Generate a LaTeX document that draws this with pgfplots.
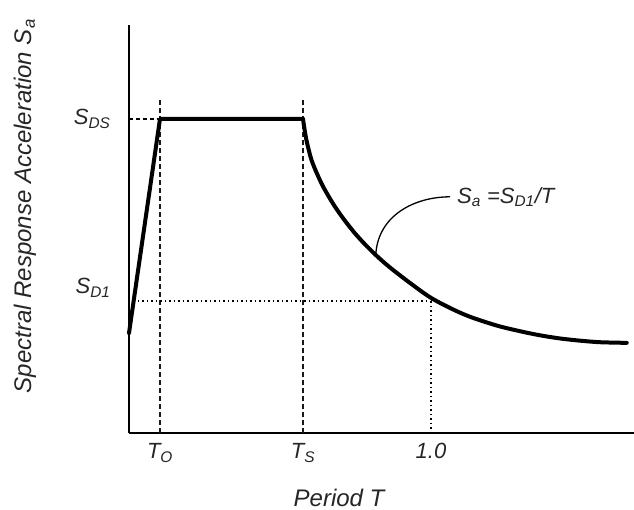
\documentclass[border=0pt]{standalone}
\usepackage{pgfplots}
\pgfplotsset{compat=1.18}
\usepackage{fontspec}
\setmainfont{Liberation Sans}
\begin{document}
\begin{tikzpicture}
\begin{axis}[
  scale only axis, width=505bp, height=408bp,
  xmin=0, xmax=1.672, ymin=0, ymax=1.299,
  axis lines=left, axis line style={-, line width=1.6bp, black},
  xtick={0.1026,0.576,1.0},
  xticklabels={T\textsubscript{O}, T\textsubscript{S}, 1.0},
  ytick={0.462,1},
  yticklabels={S\textsubscript{D1}, S\textsubscript{DS}},
  major tick length=0pt,
  tick label style={font=\fontsize{22bp}{26bp}\selectfont\itshape, text=black!85},
  xticklabel style={yshift=-7bp},
  yticklabel style={xshift=-15bp},
  xlabel={Period T},
  ylabel={Spectral Response Acceleration S\textsubscript{a}},
  label style={font=\fontsize{24bp}{28bp}\selectfont\itshape, text=black!85},
  xlabel style={at={(axis description cs:0.416,-0.159)}, anchor=center},
  ylabel style={at={(axis description cs:-0.206,0.556)}, anchor=center},
  clip=false,
]
% guide lines
\addplot[black!90, line width=1.9bp, dash pattern=on 5bp off 3bp] coordinates {(0.1026,0) (0.1026,1.06)};
\addplot[black!90, line width=1.9bp, dash pattern=on 5bp off 3bp] coordinates {(0.576,0) (0.576,1.06)};
\addplot[black, line width=1.6bp, dash pattern=on 4bp off 3bp] coordinates {(0,1) (0.1026,1)};
\addplot[black, line width=1.5bp, dash pattern=on 1.5bp off 3bp] coordinates {(0,0.42) (1.0,0.42)};
\addplot[black, line width=1.5bp, dash pattern=on 1.5bp off 3bp] coordinates {(1.0,0) (1.0,0.42)};
% spectrum
\addplot[black, line width=4bp, line join=round, line cap=round] coordinates {
  (0,0.318) (0.1026,1.0) (0.576,1.0)};
\addplot[black, line width=4bp, smooth, tension=0.5, line cap=round] coordinates {
  (0.576,1.000) (0.587,0.935) (0.604,0.870) (0.626,0.818) (0.648,0.775)
  (0.681,0.722) (0.714,0.677) (0.747,0.637) (0.780,0.602) (0.819,0.565)
  (0.864,0.527) (0.930,0.478) (0.997,0.432) (1.063,0.398) (1.129,0.370)
  (1.218,0.342) (1.295,0.324) (1.361,0.311) (1.427,0.301) (1.493,0.294)
  (1.560,0.289) (1.648,0.287)};
% annotation
\draw[black, line width=1.3bp] (axis cs:1.063,0.752) .. controls (axis cs:0.947,0.752) and (axis cs:0.824,0.694) .. (axis cs:0.817,0.567);
\node[anchor=west, inner sep=0pt, font=\fontsize{22bp}{26bp}\selectfont\itshape, text=black!85] at (axis cs:1.086,0.752) {S\textsubscript{a} =S\textsubscript{D1}/T};
\end{axis}
\pgfresetboundingbox
\path[use as bounding box] (-129bp,-77bp) rectangle (505bp,433bp);
\end{tikzpicture}
\end{document}
